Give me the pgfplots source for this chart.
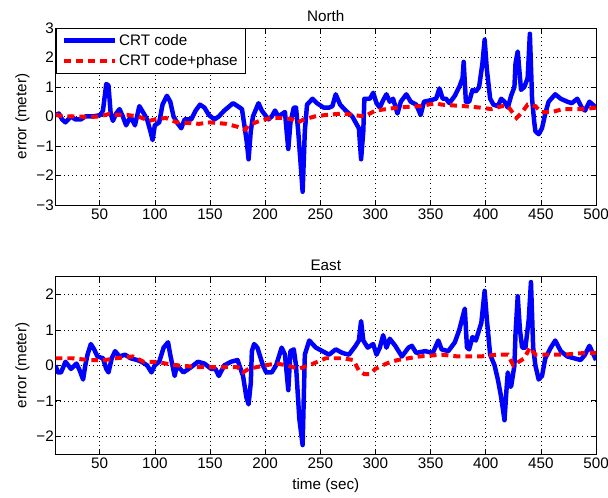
\documentclass[border=0pt]{standalone}
\usepackage{pgfplots}
\pgfplotsset{compat=1.18}
\usepackage{fontspec}
\setmainfont{Liberation Sans}
\newcommand{\fs}{\fontsize{15.3}{17}\selectfont}
\begin{document}
\pgfplotsset{
  mystyle/.style={
    scale only axis, width=543pt, height=178pt,
    xmin=10, xmax=500,
    xtick={50,100,...,500},
    tick align=inside, xtick pos=both, ytick pos=both,
    major tick length=5pt,
    grid=major,
    grid style={black, line width=0.5pt, dash pattern=on 0.7pt off 3.5pt},
    axis line style={black, line width=0.6pt},
    every tick/.style={black, line width=0.6pt},
    tick label style={font=\fs},
    yticklabel style={inner xsep=1.5pt},
    label style={font=\fs},
    title style={font=\fs, yshift=-3pt},
    /pgf/number format/assume math mode=true,
    ylabel={error (meter)},
    ylabel shift=2pt,
  },
  blueline/.style={blue, line width=4.5pt, line join=round, no marks},
  redline/.style={red, line width=4pt, dash pattern=on 7pt off 5pt, no marks},
}
\begin{tikzpicture}[x=1pt,y=1pt]
\useasboundingbox (0,0) rectangle (608,500);
\begin{axis}[mystyle, at={(53pt,294pt)}, anchor=south west,
  ymin=-3, ymax=3, ytick={-3,-2,...,3},
  yticklabels={−3,−2,−1,0,1,2,3},
  title={North},
  legend style={at={(0,1)}, anchor=north west, draw=black, line width=0.6pt,
    font=\fs, row sep=4pt, inner xsep=6pt, inner ysep=4pt},
  legend cell align=left,
  legend image code/.code={\draw[#1] plot coordinates {(0pt,0pt) (51pt,0pt)};},
]
\addplot[blueline] coordinates {(10,0.05)(13,0.1)(16,-0.1)(19,-0.2)(24,0.0)(28,-0.1)(33,-0.1)(37,0.0)(44,0.0)(51,0.05)(53,0.2)(56,1.1)(58,1.05)(60,0.1)(62,-0.15)(65,0.1)(68,0.25)(71,0.0)(74,-0.3)(78,0.0)(82,-0.3)(86,0.35)(90,0.1)(93,-0.1)(96,-0.5)(98,-0.8)(100,-0.3)(104,-0.2)(107,0.4)(111,0.7)(114,0.5)(117,0.0)(120,-0.2)(124,-0.4)(127,-0.1)(133,-0.1)(137,0.2)(141,0.4)(145,0.3)(149,0.05)(154,-0.1)(158,0.0)(163,0.2)(171,0.45)(179,0.25)(182,-0.5)(183.5,-0.9)(185,-1.45)(187,-0.5)(189,0.0)(194,0.45)(197,0.2)(200,0.05)(203,-0.1)(206,0.0)(209,0.2)(212,0.0)(218,0.15)(219.5,-0.5)(221,-1.1)(223,-0.2)(226,0.3)(228,0.3)(230,-0.5)(232,-1.5)(234,-2.55)(236,-0.5)(238,0.4)(243,0.6)(247,0.45)(253,0.3)(258,0.3)(261,0.35)(264,0.75)(268,0.4)(273,0.2)(279,0.0)(282,-0.2)(285,-0.4)(287,-1.45)(289,-0.5)(290,0.6)(295,0.6)(298,0.8)(301,0.45)(304,0.3)(307,0.55)(310,0.75)(313,0.5)(316,0.6)(320,0.1)(323,0.5)(328,0.75)(332,0.5)(337,0.4)(341,0.05)(344,0.5)(350,0.55)(355,0.6)(358,0.95)(361,0.6)(364,0.6)(367,0.45)(372,0.7)(376,1.0)(379,1.3)(380,1.85)(382,0.5)(385,0.5)(388,0.9)(391,0.85)(394,1.0)(397,1.8)(399,2.6)(401,1.6)(404,0.6)(407,0.4)(411,0.35)(414,0.6)(417,0.5)(420,0.3)(423,0.7)(426,1.0)(427,1.8)(429,2.2)(432,0.9)(435,1.0)(438,1.3)(440,2.8)(442,0.6)(444,-0.2)(445,-0.5)(448,-0.6)(451,-0.4)(454,0.1)(457,0.5)(463,0.75)(468,0.6)(474,0.5)(478,0.45)(483,0.6)(487,0.3)(490,0.2)(494,0.5)(500,0.3)};
\addplot[redline] coordinates {(10,0.05)(20,0.0)(30,0.0)(40,-0.02)(50,0.0)(58,0.08)(65,0.05)(75,0.05)(85,0.0)(95,-0.15)(100,-0.1)(110,-0.05)(120,-0.2)(130,-0.22)(140,-0.25)(150,-0.2)(165,-0.25)(175,-0.35)(182,-0.45)(185,-0.3)(195,-0.15)(205,-0.05)(215,-0.05)(225,-0.1)(230,-0.2)(235,-0.1)(245,0.0)(255,0.05)(270,0.1)(280,0.05)(290,0.0)(300,0.2)(320,0.3)(340,0.35)(355,0.45)(360,0.4)(380,0.35)(395,0.3)(405,0.25)(415,0.35)(420,0.35)(425,0.1)(428,-0.05)(432,0.1)(438,0.4)(445,0.35)(450,0.15)(460,0.15)(470,0.25)(490,0.25)(500,0.3)};
\legend{CRT code,CRT code+phase}
\end{axis}
\begin{axis}[mystyle, at={(53pt,44pt)}, anchor=south west,
  ymin=-2.5, ymax=2.5, ytick={-2,-1,...,2},
  yticklabels={−2,−1,0,1,2},
  title={East},
  xlabel={time (sec)},
  xlabel style={yshift=-3pt},
]
\addplot[blueline] coordinates {(10,0.0)(12,-0.2)(15,-0.2)(19,0.1)(24,-0.1)(29,0.05)(32,-0.15)(35,-0.4)(37,0.0)(39,0.3)(42,0.6)(45,0.45)(48,0.25)(53,0.2)(56,-0.1)(58,-0.2)(61,0.2)(64,0.4)(68,0.25)(73,0.3)(78,0.2)(84,0.15)(88,0.1)(93,0.0)(97,-0.2)(100,0.0)(104,0.1)(108,0.5)(112,0.65)(114,0.3)(118,-0.3)(120,0.0)(123,-0.1)(126,-0.2)(133,-0.05)(139,0.1)(145,0.05)(151,-0.1)(155,-0.1)(158,-0.3)(163,0.0)(169,0.1)(175,0.15)(180,-0.3)(183,-0.9)(185,-1.1)(187,-0.5)(188,0.4)(190,0.6)(193,0.5)(198,0.0)(201,-0.2)(206,-0.2)(210,0.0)(215,0.5)(218,0.3)(221,-0.7)(223,0.4)(226,0.45)(228,0.0)(231,-1.5)(234,-2.25)(236,0.3)(240,0.7)(246,0.5)(252,0.4)(258,0.3)(264,0.45)(270,0.35)(276,0.3)(282,0.55)(285,0.7)(287,1.25)(289,0.7)(293,0.5)(298,0.6)(301,0.3)(304,0.5)(307,0.85)(310,0.5)(313,0.75)(318,0.55)(324,0.25)(330,0.5)(333,0.55)(337,0.35)(345,0.4)(352,0.35)(357,0.7)(360,0.45)(366,0.4)(372,0.65)(376,1.0)(381,1.6)(383,0.5)(385,0.45)(388,0.8)(391,0.7)(396,1.2)(399,2.1)(401,1.3)(404,0.3)(408,0.0)(411,-0.4)(414,-0.9)(417,-1.55)(419,-0.6)(420,-0.2)(422,-0.6)(423,-0.6)(426,0.0)(427,0.9)(429,1.95)(431,1.0)(433,0.5)(436,0.5)(439,1.3)(441,2.35)(443,0.5)(445,0.0)(448,-0.4)(451,-0.3)(454,0.2)(459,0.5)(463,0.7)(468,0.4)(474,0.25)(480,0.2)(486,0.15)(490,0.3)(494,0.55)(497,0.35)(500,0.15)};
\addplot[redline] coordinates {(10,0.2)(25,0.2)(40,0.15)(55,0.15)(65,0.2)(80,0.25)(90,0.1)(100,0.1)(110,0.05)(120,0.0)(140,-0.05)(160,-0.05)(175,-0.05)(180,-0.2)(185,-0.1)(200,0.0)(210,0.05)(220,0.0)(230,-0.1)(240,0.0)(255,0.2)(270,0.2)(280,0.15)(285,-0.15)(290,-0.25)(295,-0.25)(300,-0.1)(310,0.05)(320,0.15)(340,0.25)(360,0.3)(375,0.25)(395,0.25)(410,0.3)(420,0.3)(425,0.0)(430,0.1)(435,0.2)(440,0.5)(445,0.3)(450,0.3)(470,0.3)(490,0.35)(500,0.35)};
\end{axis}
\end{tikzpicture}
\end{document}
